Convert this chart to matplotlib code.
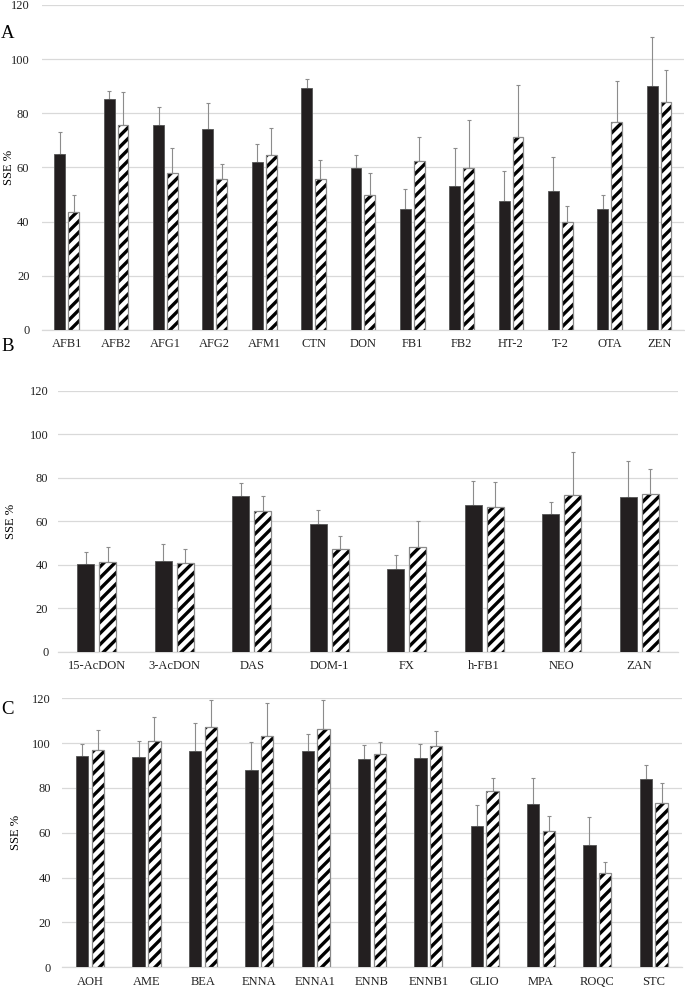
import matplotlib
matplotlib.use("Agg")
import matplotlib.pyplot as plt
import matplotlib.transforms as mtransforms
import numpy as np

plt.rcParams["font.family"] = ["Liberation Serif", "DejaVu Serif"]
plt.rcParams["hatch.linewidth"] = 2.4

# panel A
cats_a = ["AFB1", "AFB2", "AFG1", "AFG2", "AFM1", "CTN", "DON", "FB1", "FB2",
          "HT-2", "T-2", "OTA", "ZEN"]
solid_a = [64.9, 85.2, 75.6, 74.1, 62.2, 89.4, 59.9, 44.7, 53.3, 47.6, 51.4, 44.8, 90.0]
solid_sd_a = [8.2, 3.0, 6.6, 9.7, 6.4, 3.3, 4.6, 7.2, 13.8, 11.2, 12.4, 4.9, 18.2]
hatch_a = [43.4, 75.8, 58.1, 55.6, 64.6, 55.6, 49.7, 62.3, 59.7, 71.3, 40.0, 76.9, 84.2]
hatch_sd_a = [6.3, 12.2, 9.2, 5.6, 10.1, 7.0, 8.4, 9.0, 17.8, 19.0, 5.8, 15.0, 11.8]

# panel B
cats_b = ["15-AcDON", "3-AcDON", "DAS", "DOM-1", "FX", "h-FB1", "NEO", "ZAN"]
solid_b = [40.3, 41.8, 71.4, 58.9, 37.9, 67.4, 63.3, 71.0]
solid_sd_b = [5.5, 7.5, 6.0, 6.1, 6.4, 10.9, 5.5, 16.8]
hatch_b = [41.4, 40.6, 64.5, 47.2, 48.3, 66.7, 72.0, 72.3]
hatch_sd_b = [6.6, 6.4, 7.2, 5.8, 11.6, 11.2, 19.8, 11.7]

# panel C
cats_c = ["AOH", "AME", "BEA", "ENNA", "ENNA1", "ENNB", "ENNB1", "GLIO", "MPA",
          "ROQC", "STC"]
solid_c = [94.3, 94.0, 96.5, 87.9, 96.4, 92.8, 93.5, 62.9, 72.7, 54.6, 83.9]
solid_sd_c = [5.5, 7.1, 12.5, 12.6, 7.5, 6.2, 6.0, 9.4, 11.8, 12.5, 6.2]
hatch_c = [97.0, 100.8, 107.4, 103.2, 106.5, 95.0, 98.7, 78.8, 60.7, 42.1, 73.2]
hatch_sd_c = [8.7, 10.7, 11.9, 14.7, 12.6, 5.4, 6.7, 5.5, 6.7, 5.0, 8.9]

yticks = [0, 20, 40, 60, 80, 100, 120]

BLACK = "#231f20"
GRID = "#d9d9d9"
ERR = "#8c8c8c"


def draw_panel(ax, cats, solid, solid_sd, hatch, hatch_sd, ypad):
    x = np.arange(len(cats))
    w = 0.22
    off = 0.14
    ax.bar(x - off, solid, w, color=BLACK, edgecolor="#555555", linewidth=0.6, zorder=3)
    ax.bar(x + off, hatch, w, color="white", edgecolor="black", hatch="///",
           linewidth=0, zorder=3)
    ax.bar(x + off, hatch, w, fill=False, edgecolor="#8a8a8a", linewidth=0.9, zorder=4)
    zeros = [0] * len(cats)
    ax.errorbar(x - off, solid, yerr=[zeros, solid_sd], fmt="none", ecolor=ERR,
                elinewidth=0.8, capsize=1.5, capthick=0.8, zorder=2)
    ax.errorbar(x + off, hatch, yerr=[zeros, hatch_sd], fmt="none", ecolor=ERR,
                elinewidth=0.8, capsize=1.5, capthick=0.8, zorder=2)
    ax.set_xlim(-0.5, len(cats) - 0.5)
    ax.set_ylim(0, 120)
    ax.set_yticks(yticks)
    ax.set_xticks(x)
    ax.set_xticklabels(cats, fontsize=9)
    ax.tick_params(axis="both", length=0, labelsize=9, colors="#222222")
    ax.tick_params(axis="y", pad=ypad)
    ax.tick_params(axis="x", pad=6)
    ax.yaxis.grid(True, color=GRID, linewidth=0.9, zorder=0)
    ax.set_axisbelow(True)
    for s in ["top", "right", "left"]:
        ax.spines[s].set_visible(False)
    ax.spines["bottom"].set_color(GRID)
    ax.spines["bottom"].set_linewidth(0.9)


fig = plt.figure(figsize=(6.85, 9.88), dpi=100)

ax_a = fig.add_axes([0.0613, 0.666, 0.937, 0.329])
draw_panel(ax_a, cats_a, solid_a, solid_sd_a, hatch_a, hatch_sd_a, 9)
ax_b = fig.add_axes([0.0847, 0.3404, 0.905, 0.2642])
draw_panel(ax_b, cats_b, solid_b, solid_sd_b, hatch_b, hatch_sd_b, 7)
ax_c = fig.add_axes([0.0905, 0.021, 0.905, 0.2722])
draw_panel(ax_c, cats_c, solid_c, solid_sd_c, hatch_c, hatch_sd_c, 8)

for ax, lx in [(ax_a, 15), (ax_b, 17), (ax_c, 22)]:
    ax.set_ylabel("SSE %", fontsize=9)
    tr = mtransforms.blended_transform_factory(fig.transFigure, ax.transAxes)
    ax.yaxis.set_label_coords(lx / 685, 0.5, transform=tr)

fig.text(8 / 685, 1 - 34 / 988, "A", fontsize=13.5, ha="center", va="center")
fig.text(8 / 685, 1 - 346 / 988, "B", fontsize=13.5, ha="center", va="center")
fig.text(8 / 685, 1 - 710 / 988, "C", fontsize=13.5, ha="center", va="center")

fig.savefig("out.png", dpi=100)
